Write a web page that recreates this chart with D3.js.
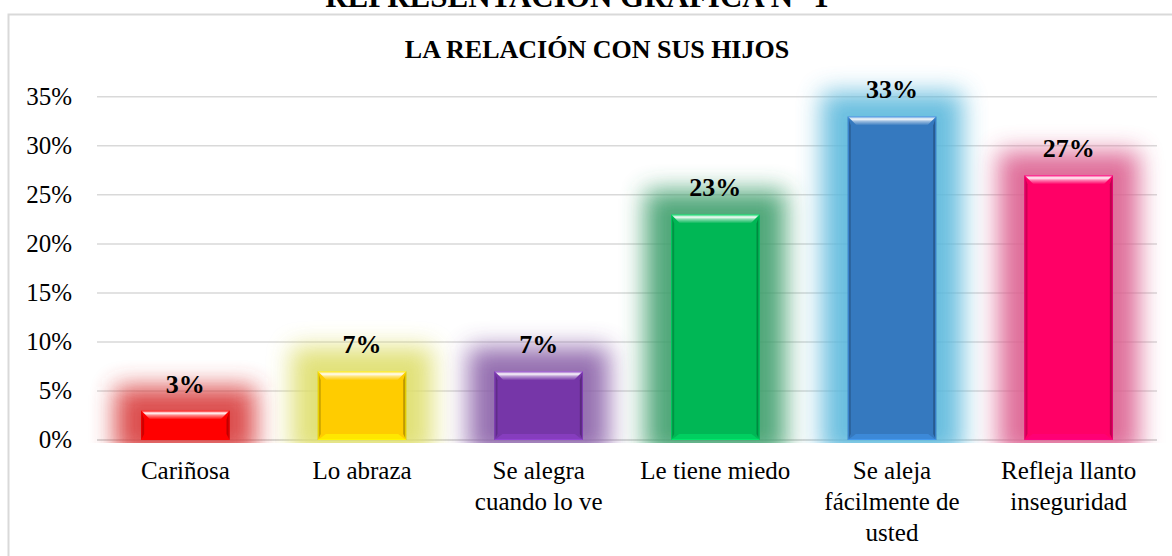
<!DOCTYPE html>
<html><head><meta charset="utf-8">
<script src="https://cdn.jsdelivr.net/npm/d3@7"></script>
<style>body{margin:0;background:#fff;overflow:hidden}svg{display:block}</style>
</head><body>
<svg id="c" width="1172" height="556"></svg>
<script>
const categories = ["Cariñosa","Lo abraza","Se alegra\ncuando lo ve","Le tiene miedo","Se aleja\nfácilmente de\nusted","Refleja llanto\ninseguridad"];
const values = [3,7,7,23,33,27];
const barColors = ["#ff0000","#ffcc00","#7636a8","#00b755","#3579bf","#ff0066"];
const glowColors = ["#d83a3a","#dede6a","#8a60a8","#3d9e6c","#5ab8dc","#dc5f8f"];
const tickValues = [0,5,10,15,20,25,30,35];
const title = "LA RELACIÓN CON SUS HIJOS";
const topTitle = "REPRESENTACIÓN GRÁFICA N° 1";

const svg = d3.select("#c");
const font = "'Liberation Serif','Times New Roman',serif";
const x = d3.scaleBand().domain(categories).range([97,1157]);
const y = d3.scaleLinear().domain([0,35]).range([440,96.8]);

const defs = svg.append("defs");
const f = defs.append("filter").attr("id","glow").attr("x","-100%").attr("y","-100%").attr("width","300%").attr("height","300%");
f.append("feGaussianBlur").attr("stdDeviation",12);
defs.append("clipPath").attr("id","clipBase").append("rect").attr("x",0).attr("y",0).attr("width",1172).attr("height",443);
const hl = defs.append("linearGradient").attr("id","hl").attr("x1",0).attr("y1",0).attr("x2",0).attr("y2",1);
hl.append("stop").attr("offset","0").attr("stop-color","#fff").attr("stop-opacity",0.35);
hl.append("stop").attr("offset","0.3").attr("stop-color","#fff").attr("stop-opacity",0.95);
hl.append("stop").attr("offset","0.55").attr("stop-color","#fff").attr("stop-opacity",0.5);
hl.append("stop").attr("offset","1").attr("stop-color","#fff").attr("stop-opacity",0);

// top title (cut off at the top edge, as in the reference)
svg.append("text").attr("x",577).attr("y",7).attr("text-anchor","middle")
  .attr("font-family",font).attr("font-weight","bold").attr("font-size",31).text(topTitle);

// chart border
svg.append("rect").attr("x",8.5).attr("y",14.5).attr("width",1200).attr("height",600)
  .attr("fill","#fff").attr("stroke","#d9d9d9").attr("stroke-width",2);

svg.append("text").attr("x",597).attr("y",58).attr("text-anchor","middle")
  .attr("font-family",font).attr("font-weight","bold").attr("font-size",26).text(title);

// gridlines
svg.append("g").selectAll("line").data(tickValues).join("line")
  .attr("x1",97).attr("x2",1157).attr("y1",d=>y(d)).attr("y2",d=>y(d))
  .attr("stroke","#d9d9d9").attr("stroke-width",d=>d===0?2.2:1.5);

// y tick labels
svg.append("g").selectAll("text").data(tickValues).join("text")
  .attr("x",72).attr("y",d=>y(d)).attr("dy","0.33em").attr("text-anchor","end")
  .attr("font-family",font).attr("font-size",25).attr("fill","#000").text(d=>d+"%");

const bw = x.bandwidth()*0.5;
const g = svg.append("g");
// glows
g.append("g").attr("clip-path","url(#clipBase)").selectAll("rect").data(values).join("rect")
  .attr("x",(d,i)=>x(categories[i])+x.bandwidth()/2-bw/2-26)
  .attr("y",d=>y(d)-24)
  .attr("width",bw+52).attr("height",d=>y(0)-y(d)+40)
  .attr("fill",(d,i)=>glowColors[i]).attr("opacity",0.9).attr("filter","url(#glow)");

values.forEach((v,i)=>{
  const x0 = x(categories[i])+x.bandwidth()/2-bw/2, x1 = x0+bw;
  const y0 = y(v), y1 = y(0);
  const c = d3.color(barColors[i]);
  const bg = g.append("g");
  bg.append("rect").attr("x",x0).attr("y",y0).attr("width",bw).attr("height",y1-y0).attr("fill",barColors[i]);
  const b = Math.min(9,(y1-y0)/3);
  bg.append("polygon").attr("points",[[x0,y0],[x0+3,y0+b],[x0+3,y1-6],[x0,y1]].join(" ")).attr("fill",c.darker(0.6));
  bg.append("polygon").attr("points",[[x1,y0],[x1-3,y0+b],[x1-3,y1-6],[x1,y1]].join(" ")).attr("fill",c.darker(0.8));
  bg.append("polygon").attr("points",[[x0,y1],[x0+8,y1-6],[x1-8,y1-6],[x1,y1]].join(" ")).attr("fill",c.brighter(0.35));
  bg.append("polygon").attr("points",[[x0,y0],[x1,y0],[x1-b,y0+b],[x0+b,y0+b]].join(" ")).attr("fill","url(#hl)");
  bg.append("rect").attr("x",x0+0.5).attr("y",y0+0.5).attr("width",bw-1).attr("height",y1-y0-1)
    .attr("fill","none").attr("stroke",c.brighter(0.8)).attr("stroke-opacity",0.6).attr("stroke-width",1);
});

// value labels
svg.append("g").selectAll("text").data(values).join("text")
  .attr("x",(d,i)=>x(categories[i])+x.bandwidth()/2).attr("y",d=>y(d)-18)
  .attr("text-anchor","middle").attr("font-family",font).attr("font-weight","bold").attr("font-size",26)
  .text(d=>d+"%");

// category labels
const cl = svg.append("g").selectAll("text").data(categories).join("text")
  .attr("x",d=>x(d)+x.bandwidth()/2).attr("y",479).attr("text-anchor","middle")
  .attr("font-family",font).attr("font-size",25);
cl.each(function(d){
  const t = d3.select(this);
  d.split("\n").forEach((line,k)=>{
    t.append("tspan").attr("x",x(d)+x.bandwidth()/2).attr("dy",k===0?0:31).text(line);
  });
});
</script>
</body></html>
